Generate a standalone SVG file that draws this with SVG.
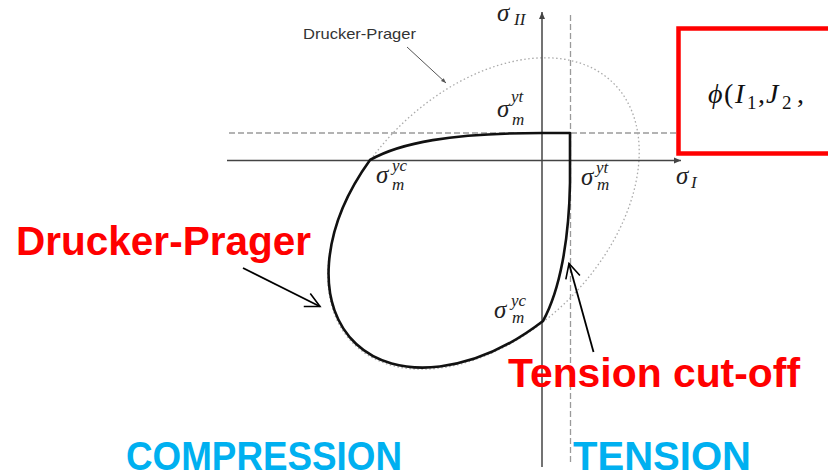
<svg xmlns="http://www.w3.org/2000/svg" width="828" height="475" viewBox="0 0 828 475">
<style>
.axis{stroke:#444;stroke-width:1.5;fill:none}
.dash{stroke:#9a9a9a;stroke-width:1.3;stroke-dasharray:6 3;fill:none}
.dot{stroke:#aaa;stroke-width:1.3;stroke-dasharray:1.5 2.5;fill:none}
.curve{stroke:#111;stroke-width:2.6;fill:none;stroke-linejoin:round}
.lead{stroke:#000;stroke-width:1.8;fill:none}
.m{font-family:"Liberation Serif","DejaVu Serif",serif;font-style:italic;fill:#222}
.big{font-family:"Liberation Sans",Arial,sans-serif;font-weight:bold;font-size:40px}
.red{fill:#FF0000}
.cyan{fill:#00B0F0}
</style>
<defs>
<marker id="ax" viewBox="-8 -4 9 8" refX="0" refY="0" markerWidth="9" markerHeight="8" markerUnits="userSpaceOnUse" orient="auto"><path d="M-7,-3 L0,0 L-7,3 Z" fill="#444"/></marker>
<marker id="open" viewBox="-16 -9 18 18" refX="0" refY="0" markerWidth="18" markerHeight="18" markerUnits="userSpaceOnUse" orient="auto"><path d="M-14.5,-7.3 L0,0 L-14.5,7.3" fill="none" stroke="#000" stroke-width="1.6"/></marker>
<marker id="small" viewBox="-6 -3 7 6" refX="0" refY="0" markerWidth="7" markerHeight="6" markerUnits="userSpaceOnUse" orient="auto"><path d="M-5,-2 L0,0 L-5,2 Z" fill="#555"/></marker>
</defs>
<rect width="828" height="475" fill="#fff"/>

<g id="guides">
<line class="dash" x1="229" y1="133" x2="678" y2="133"/>
<line class="dash" x1="570.5" y1="15" x2="570.5" y2="463"/>
<ellipse class="dot" cx="483.5" cy="213.5" rx="184" ry="121" transform="rotate(-45 483.5 213.5)"/>
</g>

<g id="axes">
<line class="axis" x1="227" y1="160.5" x2="681" y2="160.5" marker-end="url(#ax)"/>
<line class="axis" x1="542" y1="467" x2="542" y2="12" marker-end="url(#ax)"/>
</g>

<g id="yield-surface">
<path class="curve" d="M370,160 C400,143 450,133 542,133 L570,133 L570,183 C569,240 560,290 543,321 A184 121 -45 0 1 370,160 Z"/>
</g>

<g id="connectors">
<line class="lead" x1="243" y1="268" x2="320" y2="306.5" marker-end="url(#open)"/>
<line class="lead" x1="593.5" y1="352" x2="569" y2="263.5" marker-end="url(#open)"/>
<line x1="407" y1="47" x2="446" y2="83" stroke="#555" stroke-width="1" marker-end="url(#small)"/>
</g>

<g id="math-labels">
<text class="m" x="497" y="21" font-size="25">σ<tspan x="514" y="25" font-size="17">II</tspan></text>
<text class="m" x="497" y="117" font-size="25">σ<tspan x="511" y="102" font-size="17">yt</tspan><tspan x="512" y="125" font-size="17">m</tspan></text>
<text class="m" x="376" y="183" font-size="25">σ<tspan x="392" y="171" font-size="17">yc</tspan><tspan x="392" y="190" font-size="17">m</tspan></text>
<text class="m" x="581" y="185" font-size="25">σ<tspan x="596" y="173" font-size="17">yt</tspan><tspan x="597" y="190" font-size="17">m</tspan></text>
<text class="m" x="494" y="318" font-size="25">σ<tspan x="511" y="306" font-size="17">yc</tspan><tspan x="512" y="323" font-size="17">m</tspan></text>
<text class="m" x="676" y="184" font-size="25">σ<tspan x="691" y="188" font-size="17">I</tspan></text>
</g>

<g id="dp-small-label">
<text x="303" y="39" font-family="Liberation Sans,Arial,sans-serif" font-size="15" fill="#333" textLength="113" lengthAdjust="spacingAndGlyphs">Drucker-Prager</text>
</g>

<g id="formula-box">
<rect x="678.5" y="28.5" width="200" height="125" fill="#fff" stroke="#FF0000" stroke-width="4.5"/>
<text font-family="Liberation Serif,serif" font-size="28" fill="#111" y="103"><tspan x="708" font-style="italic">ϕ</tspan><tspan x="724">(</tspan><tspan x="735" font-style="italic">I</tspan><tspan x="747" y="109" font-size="19">1</tspan><tspan x="758" y="103">,</tspan><tspan x="766" font-style="italic">J</tspan><tspan x="782" y="109" font-size="19">2</tspan><tspan x="797" y="103">,</tspan></text>
</g>

<g id="labels">
<text class="big red" x="16" y="255" textLength="295" lengthAdjust="spacingAndGlyphs">Drucker-Prager</text>
<text class="big red" x="508" y="387" textLength="292" lengthAdjust="spacingAndGlyphs">Tension cut-off</text>
<text class="big cyan" x="126" y="470" textLength="276" lengthAdjust="spacingAndGlyphs">COMPRESSION</text>
<text class="big cyan" x="573" y="470" textLength="178" lengthAdjust="spacingAndGlyphs">TENSION</text>
</g>
</svg>
